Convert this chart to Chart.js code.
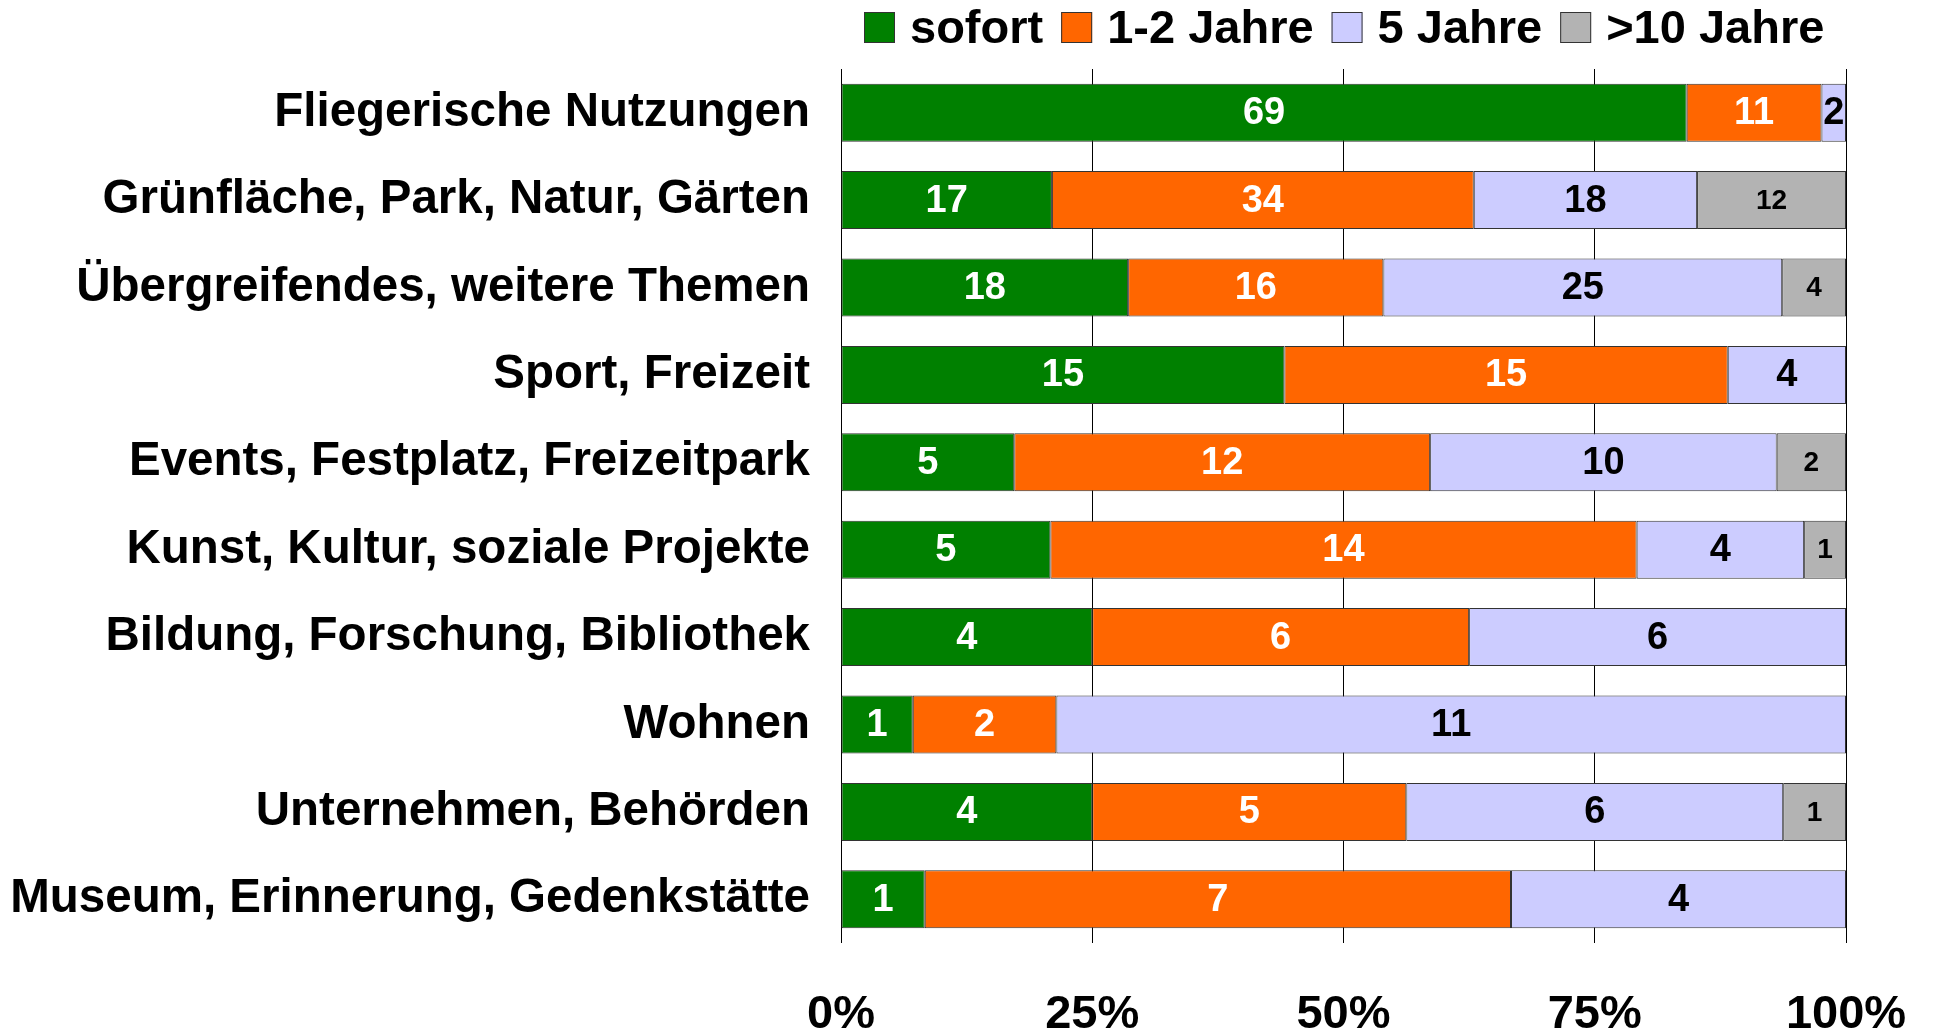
<!DOCTYPE html>
<html>
<head>
<meta charset="utf-8">
<script src="https://cdn.jsdelivr.net/npm/chart.js@4/dist/chart.umd.min.js"></script>
<style>
    html, body { margin: 0; padding: 0; background: #fff; }
    #wrap { width: 1937px; height: 1031px; }
</style>
</head>
<body>
<div id="wrap"><canvas id="chart" width="1937" height="1031"></canvas></div>
<script>
const categories = [
    'Fliegerische Nutzungen',
    'Grünfläche, Park, Natur, Gärten',
    'Übergreifendes, weitere Themen',
    'Sport, Freizeit',
    'Events, Festplatz, Freizeitpark',
    'Kunst, Kultur, soziale Projekte',
    'Bildung, Forschung, Bibliothek',
    'Wohnen',
    'Unternehmen, Behörden',
    'Museum, Erinnerung, Gedenkstätte'
];
const seriesNames = ['sofort', '1-2 Jahre', '5 Jahre', '>10 Jahre'];
const sofort = [69, 17, 18, 15, 5, 5, 4, 1, 4, 1];
const jahre1bis2 = [11, 34, 16, 15, 12, 14, 6, 2, 5, 7];
const jahre5 = [2, 18, 25, 4, 10, 4, 6, 11, 6, 4];
const jahre10 = [0, 12, 4, 0, 2, 1, 0, 0, 1, 0];
const xTicks = [0, 25, 50, 75, 100];

const colors = ['#008000', '#ff6600', '#ccccff', '#b3b3b3'];
const labelColors = ['#ffffff', '#ffffff', '#000000', '#000000'];
const labelSizes = [38, 38, 38, 28];
const FONT = '"Liberation Sans", Arial, sans-serif';

const counts = [sofort, jahre1bis2, jahre5, jahre10];
const totals = categories.map((_, i) => counts.reduce((s, arr) => s + arr[i], 0));

// 100%-Anteile aus den Zählwerten
const datasets = counts.map((arr, k) => ({
    label: seriesNames[k],
    data: arr.map((v, i) => v / totals[i] * 100),
    counts: arr,
    backgroundColor: colors[k],
    borderColor: '#333333',
    borderWidth: 1,
    borderSkipped: false,
    categoryPercentage: 1,
    barPercentage: 0.664
}));

// Zahlen in die Balken schreiben
const valueLabels = {
    id: 'valueLabels',
    afterDatasetsDraw(chart) {
        const ctx = chart.ctx;
        ctx.save();
        ctx.textAlign = 'center';
        ctx.textBaseline = 'middle';
        chart.data.datasets.forEach((ds, k) => {
            const meta = chart.getDatasetMeta(k);
            ctx.fillStyle = labelColors[k];
            ctx.font = `bold ${labelSizes[k]}px ${FONT}`;
            meta.data.forEach((bar, i) => {
                const v = ds.counts[i];
                if (!v) return;
                ctx.fillText(String(v), (bar.x + bar.base) / 2, bar.y + 1);
            });
        });
        ctx.restore();
    }
};

// Legende oben, wie im Original etwas nach rechts versetzt
const topLegend = {
    id: 'topLegend',
    afterDraw(chart) {
        const ctx = chart.ctx;
        ctx.save();
        ctx.font = `bold 47px ${FONT}`;
        ctx.textBaseline = 'alphabetic';
        let x = chart.chartArea.left + 23;
        chart.data.datasets.forEach((ds) => {
            ctx.fillStyle = ds.backgroundColor;
            ctx.fillRect(x, 12, 31, 31);
            ctx.strokeStyle = '#333333';
            ctx.lineWidth = 1;
            ctx.strokeRect(x + 0.5, 12.5, 30, 30);
            x += 31 + 15;
            ctx.fillStyle = '#000000';
            ctx.fillText(ds.label, x, 43);
            x += ctx.measureText(ds.label).width + 18;
        });
        ctx.restore();
    }
};

new Chart(document.getElementById('chart'), {
    type: 'bar',
    data: { labels: categories, datasets: datasets },
    plugins: [valueLabels, topLegend],
    options: {
        indexAxis: 'y',
        responsive: false,
        animation: false,
        layout: { padding: { top: 69, right: 91, bottom: 0, left: 0 } },
        plugins: {
            legend: { display: false },
            tooltip: { enabled: false }
        },
        scales: {
            x: {
                stacked: true,
                min: 0,
                max: 100,
                afterBuildTicks: (axis) => { axis.ticks = xTicks.map(v => ({ value: v })); },
                afterFit: (axis) => {
                    axis.height = 88;
                    axis.paddingLeft = 0;
                    axis.paddingRight = 0;
                },
                border: { display: false },
                grid: { color: '#000000', lineWidth: 1, drawTicks: false },
                ticks: {
                    padding: 44,
                    color: '#000000',
                    font: { family: FONT, size: 47, weight: 'bold' },
                    callback: (v) => v + '%'
                }
            },
            y: {
                stacked: true,
                afterFit: (axis) => { axis.width = 841; },
                border: { display: false },
                grid: { display: false, drawTicks: false },
                ticks: {
                    padding: 31,
                    color: '#000000',
                    font: { family: FONT, size: 47.5, weight: 'bold' }
                }
            }
        }
    }
});
</script>
</body>
</html>
